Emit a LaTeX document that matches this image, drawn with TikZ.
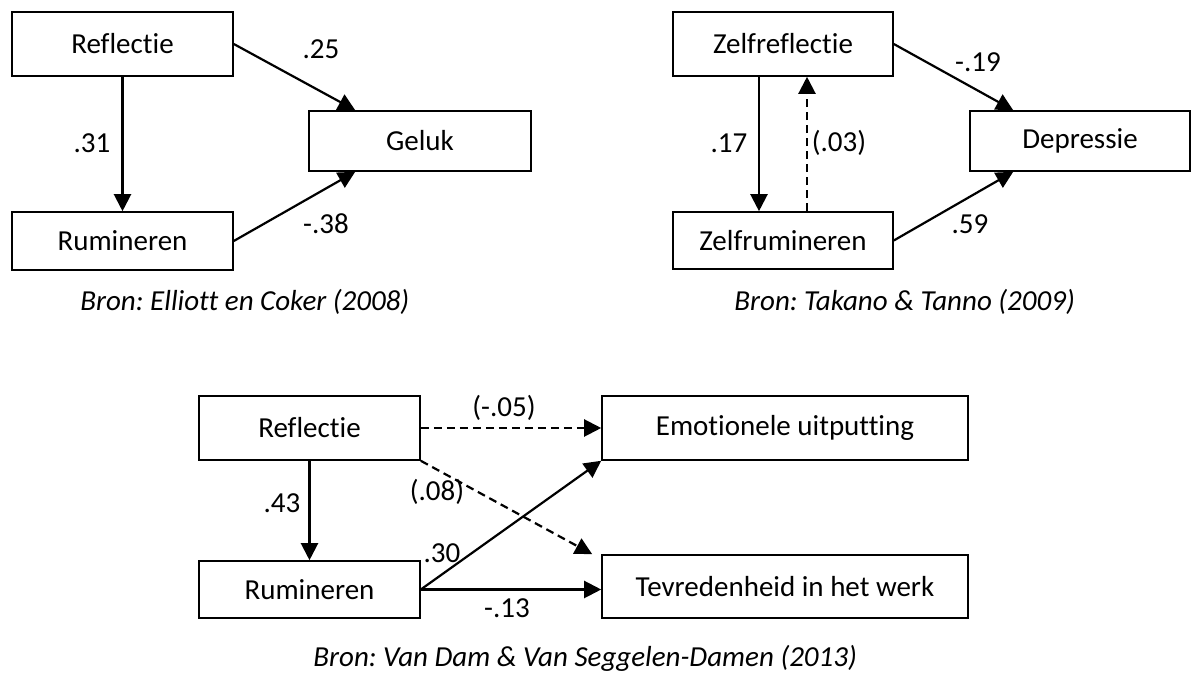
\documentclass[tikz,border=0pt]{standalone}
\usepackage{fontspec}
\setmainfont{Carlito}[Ligatures={NoCommon,NoRequired,NoContextual}]
\frenchspacing
\usetikzlibrary{arrows.meta,calc}
\begin{document}
\frenchspacing
\begin{tikzpicture}[x=0.5pt,y=-0.5pt,
  every node/.style={font=\fontsize{14.5pt}{17pt}\selectfont},
  box/.style={draw, line width=0.8pt, inner sep=0pt, align=center},
  lbl/.style={inner sep=0pt},
  captxt/.style={inner sep=0pt, anchor=base west, font=\fontsize{14.5pt}{17pt}\selectfont\itshape},
  arr/.style={line width=1.1pt, -{Triangle[length=8.5pt,width=8.5pt]}},
  darr/.style={arr, dash pattern=on 4pt off 2.5pt}]
\useasboundingbox (0,0) rectangle (1191,673);

% Panel 1
\node[box, minimum width=110.5pt, minimum height=32pt] (R1) at (122.5,44) {Reflectie};
\node[box, minimum width=110.5pt, minimum height=29pt] (U1) at (122.5,241) {Rumineren};
\node[box, minimum width=111pt, minimum height=30pt] (G1) at (420,141) {Geluk};
\draw[arr] (R1.south) -- (U1.north);
\draw[arr] (R1.east) -- ($(G1.north west)+(47,0)$);
\draw[arr] (U1.east) -- ($(G1.south west)+(47,0)$);
\node[lbl] (l25) at (321,49) {.25};
\node[lbl] (l31) at (92,143) {.31};
\node[lbl] (l38) at (326,224) {-.38};
\node[captxt] (c1) at (80,311) {Bron: Elliott en Coker (2008)};

% Panel 2
\node[box, minimum width=110pt, minimum height=32pt] (R2) at (783,44) {Zelfreflectie};
\node[box, minimum width=110pt, minimum height=28.5pt] (U2) at (783,240.5) {Zelfrumineren};
\node[box, minimum width=110pt, minimum height=30pt] (D2) at (1080,141) {Depressie};
\draw[arr] ($(R2.south)+(-24,0)$) -- ($(U2.north)+(-24,0)$);
\draw[darr] ($(U2.north)+(24,0)$) -- ($(R2.south)+(24,0)$);
\draw[arr] (R2.east) -- ($(D2.north west)+(44,0)$);
\draw[arr] (U2.east) -- ($(D2.south west)+(44,0)$);
\node[lbl] (l17) at (729,143) {.17};
\node[lbl] (l03) at (839,143) {(.03)};
\node[lbl] (l19) at (978,62) {-.19};
\node[lbl] (l59) at (970,224) {.59};
\node[captxt] (c2) at (734,311) {Bron: Takano \& Tanno (2009)};

% Panel 3
\node[box, minimum width=110.5pt, minimum height=32pt] (R3) at (309.5,428) {Reflectie};
\node[box, minimum width=110.5pt, minimum height=28.5pt] (U3) at (309.5,589.5) {Rumineren};
\node[box, minimum width=183pt, minimum height=32pt] (E3) at (785,428) {Emotionele uitputting};
\node[box, minimum width=183pt, minimum height=31.5pt] (T3) at (785,586.5) {Tevredenheid in het werk};
\draw[arr] (R3.south) -- (U3.north);
\draw[darr] (R3.east) -- (E3.west);
\draw[darr] (R3.south east) -- ($(T3.north west)+(-9,0)$);
\draw[arr] (U3.east) -- (E3.south west);
\draw[arr] (U3.east) -- (U3.east -| T3.west);
\node[lbl] (l43) at (282,503) {.43};
\node[lbl] (l05) at (504,408) {(-.05)};
\node[lbl] (l08) at (437,492) {(.08)};
\node[lbl] (l30) at (442,553) {.30};
\node[lbl] (l13) at (507,608) {-.13};
\node[captxt] (c3) at (313,667) {Bron: Van Dam \& Van Seggelen-Damen (2013)};
\end{tikzpicture}
\end{document}
